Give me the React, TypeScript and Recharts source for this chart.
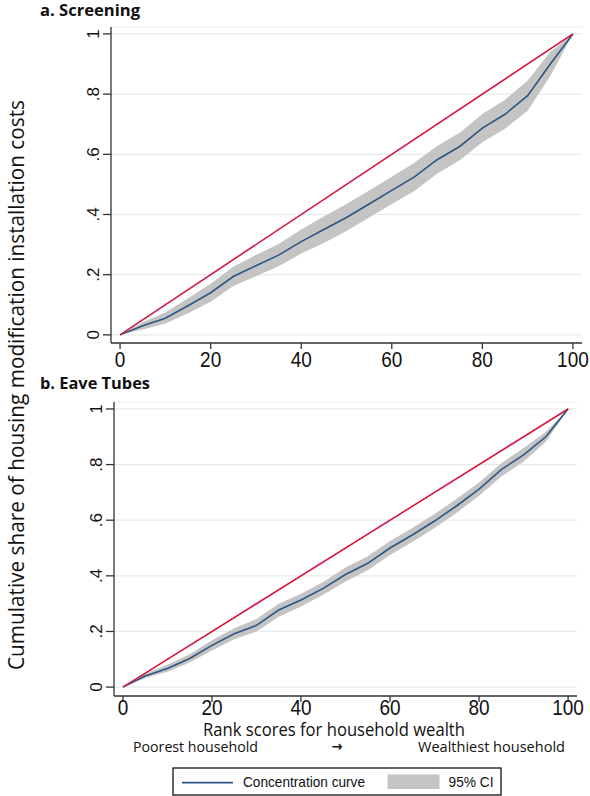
import React from 'react';
import {
  ComposedChart,
  Area,
  Line,
  XAxis,
  YAxis,
  CartesianGrid,
  ReferenceLine,
} from 'recharts';

// Wealth rank (percentile) at which each curve point is evaluated
const rankScores = [0, 5, 10, 15, 20, 25, 30, 35, 40, 45, 50, 55, 60, 65, 70, 75, 80, 85, 90, 95, 100];

// a. Screening
const screeningCurve = [0, 0.03, 0.055, 0.097, 0.14, 0.194, 0.23, 0.265, 0.31, 0.35, 0.39, 0.435, 0.48, 0.525, 0.582, 0.626, 0.687, 0.733, 0.795, 0.9, 1];
const screeningLower = [0, 0.018, 0.038, 0.072, 0.11, 0.162, 0.195, 0.228, 0.27, 0.305, 0.345, 0.39, 0.435, 0.478, 0.535, 0.58, 0.64, 0.685, 0.745, 0.86, 1];
const screeningUpper = [0, 0.042, 0.074, 0.122, 0.17, 0.226, 0.265, 0.302, 0.35, 0.393, 0.435, 0.48, 0.525, 0.572, 0.628, 0.672, 0.734, 0.781, 0.845, 0.94, 1];

// b. Eave Tubes
const eaveCurve = [0, 0.04, 0.067, 0.103, 0.15, 0.192, 0.222, 0.277, 0.313, 0.355, 0.405, 0.445, 0.5, 0.547, 0.597, 0.652, 0.712, 0.782, 0.835, 0.9, 1];
const eaveLower = [0, 0.033, 0.055, 0.088, 0.132, 0.172, 0.2, 0.253, 0.29, 0.332, 0.38, 0.42, 0.475, 0.522, 0.572, 0.627, 0.688, 0.757, 0.81, 0.882, 1];
const eaveUpper = [0, 0.048, 0.08, 0.118, 0.168, 0.212, 0.245, 0.3, 0.336, 0.378, 0.43, 0.47, 0.525, 0.572, 0.622, 0.677, 0.736, 0.805, 0.86, 0.918, 1];

// Line of equality
const equalityLine = [
  { x: 0, y: 0 },
  { x: 100, y: 1 },
];

const xTicks = [0, 20, 40, 60, 80, 100];
const yTicks = [0, 0.2, 0.4, 0.6, 0.8, 1];
const yTickLabels = ['0', '.2', '.4', '.6', '.8', '1'];

const BLUE = '#2c5682';
const RED = '#d3173f';
const BAND = '#c4c4c4';
const GRID = '#e4eded';
const AXIS = '#333333';
const TICK_FONT = '"Liberation Sans", Arial, sans-serif';
const TITLE_FONT = '"Open Sans", "Noto Sans", sans-serif';

function buildRows(curve: number[], lower: number[], upper: number[]) {
  return rankScores.map((rank, i) => ({
    rank,
    cc: curve[i],
    ci: [lower[i], upper[i]],
  }));
}

function XTick(props: any) {
  const { x, payload, labelY } = props;
  return (
    <text
      transform={`translate(${x},${labelY}) scale(1,1.2)`}
      textAnchor="middle"
      dominantBaseline="central"
      fontSize={19}
      fontFamily={TICK_FONT}
      fill="#111"
    >
      {payload.value}
    </text>
  );
}

function YTick(props: any) {
  const { y, payload, labelX } = props;
  const idx = yTicks.indexOf(payload.value);
  return (
    <text
      transform={`translate(${labelX},${y}) rotate(-90)`}
      textAnchor="middle"
      dominantBaseline="central"
      fontSize={17}
      fontFamily={TICK_FONT}
      fill="#111"
    >
      {idx >= 0 ? yTickLabels[idx] : payload.value}
    </text>
  );
}

type PanelProps = {
  top: number;
  height: number;
  plotTop: number;
  plotBottom: number;
  plotLeft: number;
  plotRight: number;
  yDomain: [number, number];
  xLabelY: number;
  yLabelX: number;
  rows: any[];
};

function Panel(p: PanelProps) {
  const mt = p.plotTop - p.top;
  const xAxisH = p.top + p.height - p.plotBottom;
  return (
    <div style={{ position: 'absolute', left: 0, top: p.top }}>
      <ComposedChart
        width={590}
        height={p.height}
        data={p.rows}
        margin={{ top: mt, right: 590 - p.plotRight, bottom: 0, left: 0 }}
      >
        <CartesianGrid horizontal vertical={false} stroke={GRID} strokeWidth={1.2} />
        <XAxis
          dataKey="rank"
          type="number"
          domain={[-2, 102]}
          ticks={xTicks}
          interval={0}
          allowDataOverflow
          height={xAxisH}
          tickSize={6}
          axisLine={{ stroke: AXIS, strokeWidth: 1.3 }}
          tickLine={{ stroke: AXIS, strokeWidth: 1.3 }}
          tick={<XTick labelY={p.xLabelY - p.top} />}
        />
        <YAxis
          type="number"
          domain={p.yDomain}
          ticks={yTicks}
          interval={0}
          allowDataOverflow
          width={p.plotLeft}
          tickSize={8}
          axisLine={{ stroke: AXIS, strokeWidth: 1.3 }}
          tickLine={{ stroke: AXIS, strokeWidth: 1.3 }}
          tick={<YTick labelX={p.yLabelX} />}
        />
        <Area
          dataKey="ci"
          type="linear"
          stroke="none"
          fill={BAND}
          fillOpacity={1}
          isAnimationActive={false}
        />
        <Line
          dataKey="cc"
          type="linear"
          stroke={BLUE}
          strokeWidth={1.6}
          dot={false}
          isAnimationActive={false}
        />
        <ReferenceLine
          segment={equalityLine}
          stroke={RED}
          strokeWidth={1.6}
          ifOverflow="visible"
        />
      </ComposedChart>
    </div>
  );
}

export default function App() {
  const screeningRows = buildRows(screeningCurve, screeningLower, screeningUpper);
  const eaveRows = buildRows(eaveCurve, eaveLower, eaveUpper);
  return (
    <div
      style={{
        position: 'absolute',
        left: 0,
        top: 0,
        width: 590,
        height: 796,
        background: '#fff',
        overflow: 'hidden',
      }}
    >
      <Panel
        top={0}
        height={380}
        plotTop={27}
        plotBottom={343}
        plotLeft={111}
        plotRight={582}
        yDomain={[-0.027, 1.023]}
        xLabelY={358.5}
        yLabelX={93}
        rows={screeningRows}
      />
      <Panel
        top={380}
        height={350}
        plotTop={402}
        plotBottom={696}
        plotLeft={114}
        plotRight={577}
        yDomain={[-0.032, 1.025]}
        xLabelY={707}
        yLabelX={96}
        rows={eaveRows}
      />
      <svg
        width={590}
        height={796}
        style={{ position: 'absolute', left: 0, top: 0, pointerEvents: 'none' }}
      >
        <text x={40} y={16} fontSize={16} fontWeight={700} fontFamily={TITLE_FONT} textLength={100} lengthAdjust="spacingAndGlyphs" fill="#111">
          a. Screening
        </text>
        <text x={40} y={388.5} fontSize={16.5} fontWeight={700} fontFamily={TITLE_FONT} textLength={110} lengthAdjust="spacingAndGlyphs" fill="#111">
          b. Eave Tubes
        </text>
        <text
          transform="translate(14.5,385) rotate(-90)"
          textAnchor="middle"
          dominantBaseline="central"
          fontSize={22}
          fontFamily={TITLE_FONT}
          textLength={570}
          lengthAdjust="spacingAndGlyphs"
          fill="#111"
        >
          Cumulative share of housing modification installation costs
        </text>
        <text x={203} y={736} fontSize={19} fontFamily={TITLE_FONT} textLength={262} lengthAdjust="spacingAndGlyphs" fill="#111">
          Rank scores for household wealth
        </text>
        <text x={133} y={752} fontSize={14.5} fontFamily={TITLE_FONT} textLength={125} lengthAdjust="spacingAndGlyphs" fill="#111">
          Poorest household
        </text>
        <text x={337} y={751} fontSize={14} textAnchor="middle" fontFamily='"DejaVu Sans", sans-serif' fontWeight={700} textLength={11} lengthAdjust="spacingAndGlyphs" fill="#111">
          →
        </text>
        <text x={418} y={752} fontSize={14.5} fontFamily={TITLE_FONT} textLength={147} lengthAdjust="spacingAndGlyphs" fill="#111">
          Wealthiest household
        </text>
        <rect x={173} y={768} width={328} height={27} fill="#fff" stroke="#111" strokeWidth={1.3} />
        <line x1={182} y1={782.7} x2={233} y2={782.7} stroke={BLUE} strokeWidth={1.8} />
        <text x={243} y={787} fontSize={14.5} fontFamily={TICK_FONT} textLength={122} lengthAdjust="spacingAndGlyphs" fill="#111">
          Concentration curve
        </text>
        <rect x={387.5} y={774.5} width={52} height={14.5} fill={BAND} />
        <text x={448.5} y={787} fontSize={14.5} fontFamily={TICK_FONT} textLength={45} lengthAdjust="spacingAndGlyphs" fill="#111">
          95% CI
        </text>
      </svg>
    </div>
  );
}
